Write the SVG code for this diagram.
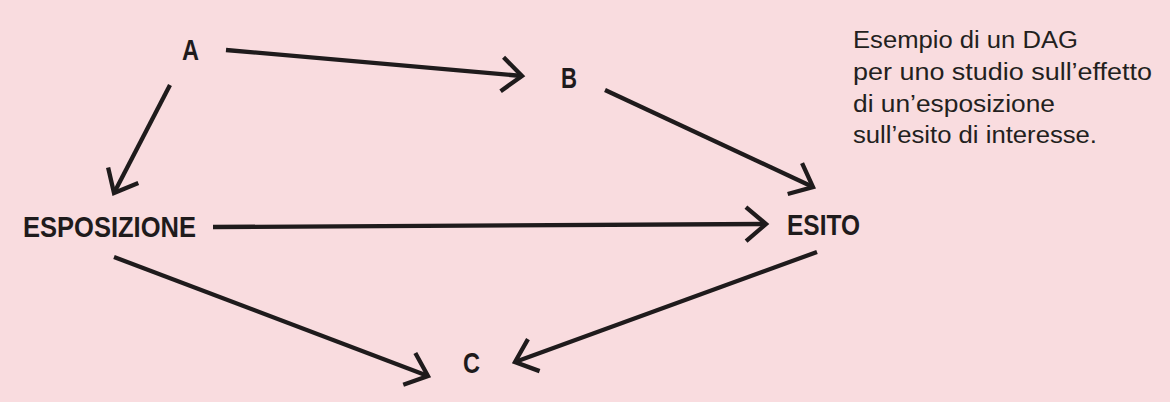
<svg xmlns="http://www.w3.org/2000/svg" width="1170" height="402" viewBox="0 0 1170 402">
<style>
.node{font-family:"Liberation Sans",Arial,sans-serif;font-weight:bold;font-size:30px;fill:#1f1b1c}
.note{font-family:"Liberation Sans",Arial,sans-serif;font-size:23.5px;fill:#231f20}
.edge{stroke:#1f1b1c;stroke-width:4.3;fill:none;marker-end:url(#arr)}
</style>
<defs>
<marker id="arr" markerUnits="userSpaceOnUse" markerWidth="40" markerHeight="40" viewBox="-30 -20 40 40" refX="0" refY="0" orient="auto" overflow="visible">
<path d="M-20,-17 L0,0 L-20,17" fill="none" stroke="#1f1b1c" stroke-width="4.3" stroke-linejoin="miter"/>
</marker>
</defs>
<rect width="1170" height="402" fill="#f9dcdf"/>
<g id="connectors">
<line class="edge" x1="226" y1="50" x2="522" y2="76"/>
<line class="edge" x1="170" y1="85" x2="114" y2="193"/>
<line class="edge" x1="605" y1="90" x2="813" y2="187"/>
<line class="edge" x1="213" y1="227" x2="766" y2="224"/>
<line class="edge" x1="114" y1="257" x2="428" y2="376"/>
<line class="edge" x1="817" y1="252" x2="515" y2="362"/>
</g>
<g id="node-A"><text class="node" x="182" y="60" textLength="17" lengthAdjust="spacingAndGlyphs">A</text></g>
<g id="node-B"><text class="node" x="561" y="88" textLength="16" lengthAdjust="spacingAndGlyphs">B</text></g>
<g id="node-ESPOSIZIONE"><text class="node" x="23" y="237" textLength="173" lengthAdjust="spacingAndGlyphs">ESPOSIZIONE</text></g>
<g id="node-ESITO"><text class="node" x="787" y="235" textLength="73" lengthAdjust="spacingAndGlyphs">ESITO</text></g>
<g id="node-C"><text class="node" x="463" y="373" textLength="17" lengthAdjust="spacingAndGlyphs">C</text></g>
<g id="note">
<text class="note" x="853" y="48" textLength="225" lengthAdjust="spacingAndGlyphs">Esempio di un DAG</text>
<text class="note" x="853" y="80" textLength="299" lengthAdjust="spacingAndGlyphs">per uno studio sull’effetto</text>
<text class="note" x="853" y="112" textLength="202" lengthAdjust="spacingAndGlyphs">di un’esposizione</text>
<text class="note" x="853" y="143" textLength="244" lengthAdjust="spacingAndGlyphs">sull’esito di interesse.</text>
</g>
</svg>
